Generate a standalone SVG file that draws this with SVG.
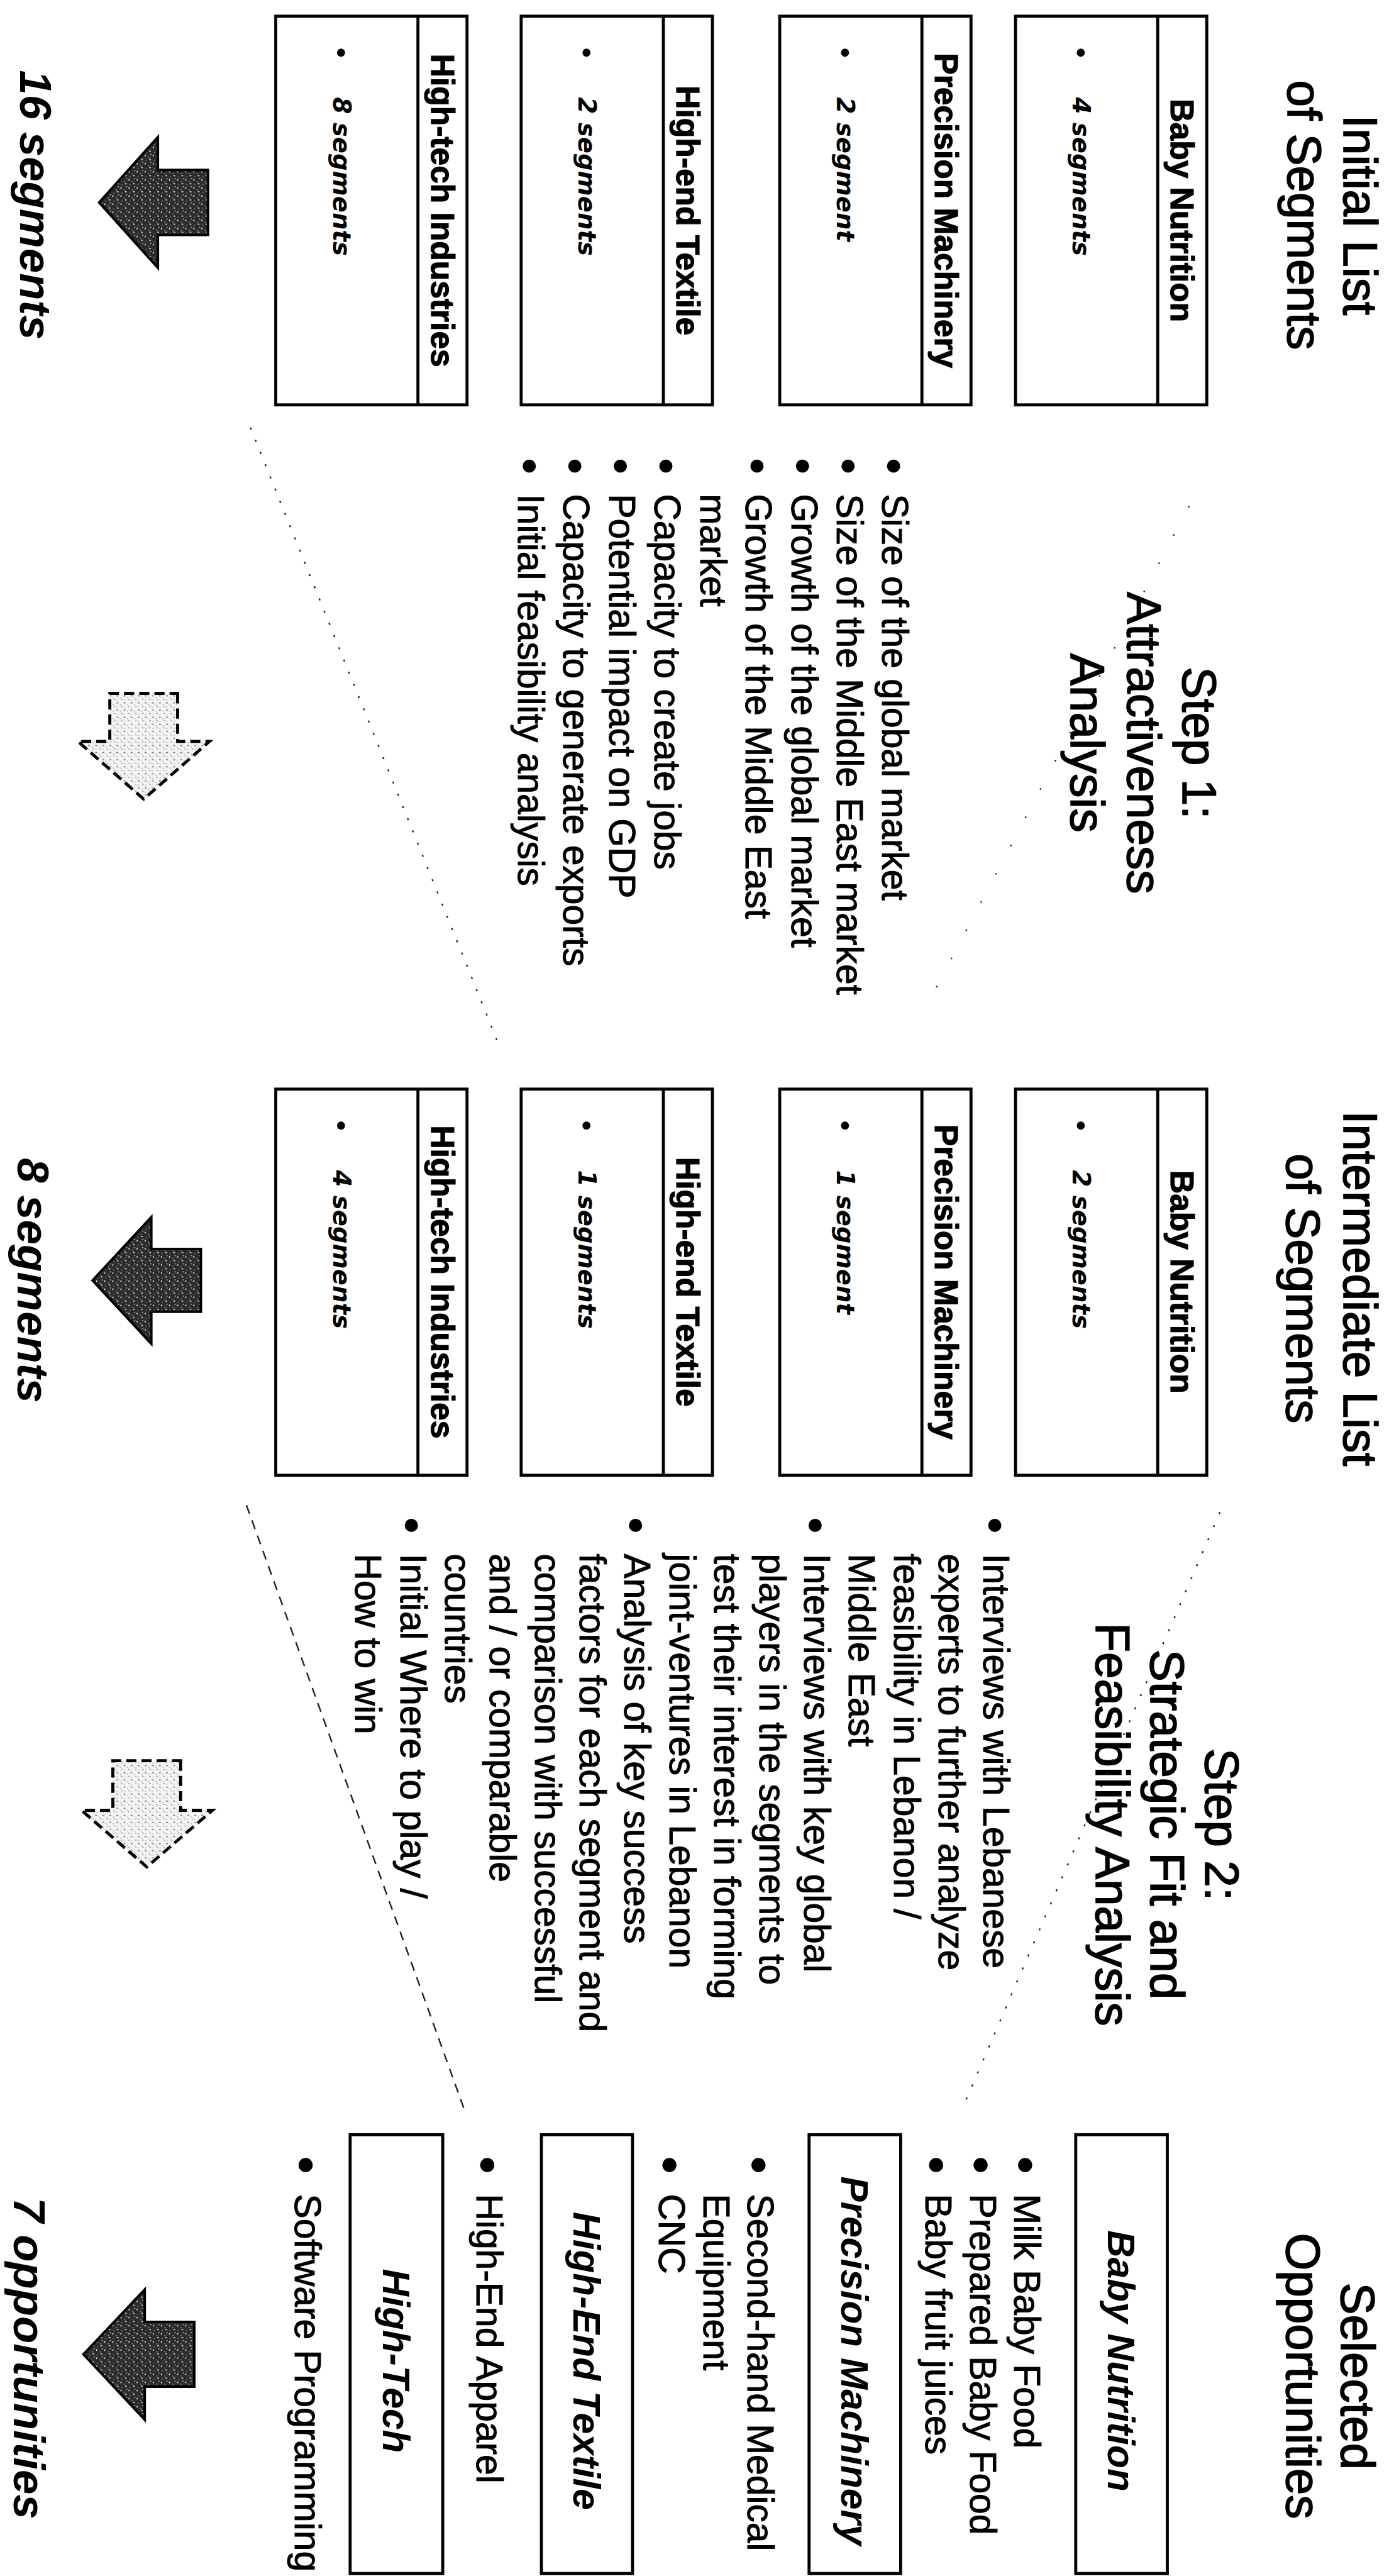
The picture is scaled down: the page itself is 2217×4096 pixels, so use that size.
<svg xmlns="http://www.w3.org/2000/svg" width="2217" height="4096" viewBox="0 0 2217 4096">
<defs>
<style>
.title{font-family:"Liberation Sans",Arial,sans-serif;font-size:95px;text-anchor:middle;fill:#000;stroke:#000;stroke-width:2}
.hdr{font-family:"Liberation Sans",Arial,sans-serif;font-weight:bold;font-size:64px;text-anchor:middle;fill:#000;stroke:#000;stroke-width:1.5}
.seg{font-family:"DejaVu Sans",Verdana,sans-serif;font-weight:bold;font-style:italic;font-size:48px;fill:#000}
.bl{font-family:"Liberation Sans",Arial,sans-serif;font-size:73px;fill:#000;stroke:#000;stroke-width:1.2}
.sel{font-family:"Liberation Sans",Arial,sans-serif;font-weight:bold;font-style:italic;font-size:75px;text-anchor:middle;fill:#000}
.cnt{font-family:"Liberation Sans",Arial,sans-serif;font-weight:bold;font-style:italic;font-size:88px;text-anchor:middle;fill:#000}
.box{fill:#fff;stroke:#000;stroke-width:6}
.div{stroke:#000;stroke-width:6}
.solid{fill:url(#dk);stroke:#000;stroke-width:5;stroke-linejoin:miter}
.dash{fill:url(#lt);stroke:#000;stroke-width:6;stroke-dasharray:20 10}
.dot{fill:#000}
.funnel{fill:none;stroke:#222;stroke-width:3}
</style>
<pattern id="dk" width="16" height="16" patternUnits="userSpaceOnUse">
<rect width="16" height="16" fill="#2b2b2b"/>
<rect x="2" y="3" width="3" height="2" fill="#fff"/>
<rect x="10" y="9" width="2" height="3" fill="#fff"/>
<rect x="6" y="12" width="2" height="2" fill="#aaa"/>
<rect x="12" y="1" width="2" height="2" fill="#888"/>
<rect x="0" y="8" width="2" height="2" fill="#ccc"/>
</pattern>
<pattern id="lt" width="14" height="14" patternUnits="userSpaceOnUse">
<rect width="14" height="14" fill="#f4f4f4"/>
<rect x="2" y="1" width="2" height="4" fill="#777"/>
<rect x="9" y="7" width="2" height="3" fill="#999"/>
<rect x="5" y="10" width="2" height="2" fill="#aaa"/>
<rect x="11" y="2" width="1" height="2" fill="#666"/>
</pattern>
</defs>
<rect width="2217" height="4096" fill="#fff"/>
<g transform="scale(0.80472) translate(2755 0) rotate(90)">

<g id="title-initial">
<text class="title" x="425" y="100">Initial List</text>
<text class="title" x="425" y="210">of Segments</text>
</g>
<g id="title-step1">
<text class="title" x="1468" y="417">Step 1:</text>
<text class="title" x="1468" y="527">Attractiveness</text>
<text class="title" x="1468" y="639">Analysis</text>
</g>
<g id="title-intermediate">
<text class="title" x="2546" y="100">Intermediate List</text>
<text class="title" x="2546" y="212">of Segments</text>
</g>
<g id="title-step2">
<text class="title" x="3605" y="373">Step 2:</text>
<text class="title" x="3605" y="481">Strategic Fit and</text>
<text class="title" x="3605" y="589">Feasibility Analysis</text>
</g>
<g id="title-selected">
<text class="title" x="4695" y="104">Selected</text>
<text class="title" x="4695" y="212">Opportunities</text>
</g>

<!-- Column 1 -->
<g id="c1-baby">
<rect class="box" x="32" y="370" width="768" height="378"/>
<line class="div" x1="32" y1="467" x2="800" y2="467"/>
<text class="hdr" x="416" y="441">Baby Nutrition</text>
<circle class="dot" cx="104" cy="619" r="8"/>
<text class="seg" x="192" y="635">4 segments</text>
</g>
<g id="c1-precision">
<rect class="box" x="32" y="836" width="768" height="378"/>
<line class="div" x1="32" y1="933" x2="800" y2="933"/>
<text class="hdr" x="416" y="907">Precision Machinery</text>
<circle class="dot" cx="104" cy="1085" r="8"/>
<text class="seg" x="192" y="1101">2 segment</text>
</g>
<g id="c1-textile">
<rect class="box" x="32" y="1347" width="768" height="378"/>
<line class="div" x1="32" y1="1444" x2="800" y2="1444"/>
<text class="hdr" x="416" y="1418">High-end Textile</text>
<circle class="dot" cx="104" cy="1596" r="8"/>
<text class="seg" x="192" y="1612">2 segments</text>
</g>
<g id="c1-hightech">
<rect class="box" x="32" y="1832" width="768" height="378"/>
<line class="div" x1="32" y1="1929" x2="800" y2="1929"/>
<text class="hdr" x="416" y="1903">High-tech Industries</text>
<circle class="dot" cx="104" cy="2081" r="8"/>
<text class="seg" x="192" y="2097">8 segments</text>
</g>

<!-- Step 1 bullets -->
<g id="step1-list">
<circle class="dot" cx="921" cy="989" r="13"/>
<text class="bl" x="976" y="1011">Size of the global market</text>
<circle class="dot" cx="921" cy="1079" r="13"/>
<text class="bl" x="976" y="1101">Size of the Middle East market</text>
<circle class="dot" cx="921" cy="1169" r="13"/>
<text class="bl" x="976" y="1191">Growth of the global market</text>
<circle class="dot" cx="921" cy="1259" r="13"/>
<text class="bl" x="976" y="1281">Growth of the Middle East</text>
<text class="bl" x="976" y="1371">market</text>
<circle class="dot" cx="921" cy="1439" r="13"/>
<text class="bl" x="976" y="1461">Capacity to create jobs</text>
<circle class="dot" cx="921" cy="1529" r="13"/>
<text class="bl" x="976" y="1551">Potential impact on GDP</text>
<circle class="dot" cx="921" cy="1619" r="13"/>
<text class="bl" x="976" y="1641">Capacity to generate exports</text>
<circle class="dot" cx="921" cy="1709" r="13"/>
<text class="bl" x="976" y="1731">Initial feasibility analysis</text>
</g>

<!-- Column 2 -->
<g id="c2-baby">
<rect class="box" x="2152" y="370" width="763" height="378"/>
<line class="div" x1="2152" y1="467" x2="2915" y2="467"/>
<text class="hdr" x="2533" y="441">Baby Nutrition</text>
<circle class="dot" cx="2224" cy="619" r="8"/>
<text class="seg" x="2312" y="635">2 segments</text>
</g>
<g id="c2-precision">
<rect class="box" x="2152" y="836" width="763" height="378"/>
<line class="div" x1="2152" y1="933" x2="2915" y2="933"/>
<text class="hdr" x="2533" y="907">Precision Machinery</text>
<circle class="dot" cx="2224" cy="1085" r="8"/>
<text class="seg" x="2312" y="1101">1 segment</text>
</g>
<g id="c2-textile">
<rect class="box" x="2152" y="1347" width="763" height="378"/>
<line class="div" x1="2152" y1="1444" x2="2915" y2="1444"/>
<text class="hdr" x="2533" y="1418">High-end Textile</text>
<circle class="dot" cx="2224" cy="1596" r="8"/>
<text class="seg" x="2312" y="1612">1 segments</text>
</g>
<g id="c2-hightech">
<rect class="box" x="2152" y="1832" width="763" height="378"/>
<line class="div" x1="2152" y1="1929" x2="2915" y2="1929"/>
<text class="hdr" x="2533" y="1903">High-tech Industries</text>
<circle class="dot" cx="2224" cy="2081" r="8"/>
<text class="seg" x="2312" y="2097">4 segments</text>
</g>

<!-- Step 2 bullets -->
<g id="step2-list">
<circle class="dot" cx="3014" cy="789" r="13"/>
<text class="bl" x="3070" y="811">Interviews with Lebanese</text>
<text class="bl" x="3070" y="900">experts to further analyze</text>
<text class="bl" x="3070" y="988">feasibility in Lebanon /</text>
<text class="bl" x="3070" y="1077">Middle East</text>
<circle class="dot" cx="3014" cy="1144" r="13"/>
<text class="bl" x="3070" y="1166">Interviews with key global</text>
<text class="bl" x="3070" y="1254">players in the segments to</text>
<text class="bl" x="3070" y="1343">test their interest in forming</text>
<text class="bl" x="3070" y="1432">joint-ventures in Lebanon</text>
<circle class="dot" cx="3014" cy="1499" r="13"/>
<text class="bl" x="3070" y="1521">Analysis of key success</text>
<text class="bl" x="3070" y="1609">factors for each segment and</text>
<text class="bl" x="3070" y="1698">comparison with successful</text>
<text class="bl" x="3070" y="1787">and / or comparable</text>
<text class="bl" x="3070" y="1875">countries</text>
<circle class="dot" cx="3014" cy="1942" r="13"/>
<text class="bl" x="3070" y="1964">Initial Where to play /</text>
<text class="bl" x="3070" y="2053">How to win</text>
</g>

<!-- Column 3 -->
<g id="c3-baby">
<rect class="box" x="4218" y="448" width="867" height="181"/>
<text class="sel" x="4665" y="565">Baby Nutrition</text>
<circle class="dot" cx="4278" cy="729" r="14"/>
<text class="bl" x="4335" y="750">Milk Baby Food</text>
<circle class="dot" cx="4278" cy="817" r="14"/>
<text class="bl" x="4335" y="838">Prepared Baby Food</text>
<circle class="dot" cx="4278" cy="905" r="14"/>
<text class="bl" x="4335" y="926">Baby fruit juices</text>
</g>
<g id="c3-precision">
<rect class="box" x="4218" y="975" width="867" height="181"/>
<text class="sel" x="4665" y="1092">Precision Machinery</text>
<circle class="dot" cx="4278" cy="1256" r="14"/>
<text class="bl" x="4335" y="1277">Second-hand Medical</text>
<text class="bl" x="4335" y="1365">Equipment</text>
<circle class="dot" cx="4278" cy="1432" r="14"/>
<text class="bl" x="4335" y="1453">CNC</text>
</g>
<g id="c3-textile">
<rect class="box" x="4218" y="1505" width="867" height="180"/>
<text class="sel" x="4665" y="1622">High-End Textile</text>
<circle class="dot" cx="4278" cy="1792" r="14"/>
<text class="bl" x="4335" y="1813">High-End Apparel</text>
</g>
<g id="c3-hightech">
<rect class="box" x="4218" y="1880" width="867" height="183"/>
<text class="sel" x="4665" y="1998">High-Tech</text>
<circle class="dot" cx="4278" cy="2151" r="14"/>
<text class="bl" x="4335" y="2172">Software Programming</text>
</g>

<!-- Counts -->
<g id="count-16">
<polygon class="solid" points="336,2344 464,2344 464,2443 529,2443 400,2559 271,2443 336,2443"/>
<text class="cnt" x="405" y="2715">16 segments</text>
</g>
<g id="count-8">
<polygon class="solid" points="2468,2358 2592,2358 2592,2456 2655,2456 2530,2572 2405,2456 2468,2456"/>
<text class="cnt" x="2530" y="2720">8 segments</text>
</g>
<g id="count-7">
<polygon class="solid" points="4588,2371 4716,2371 4716,2469 4781,2469 4652,2590 4524,2469 4588,2469"/>
<text class="cnt" x="4660" y="2728">7 opportunities</text>
</g>

<!-- Connectors -->
<g id="connectors">
<polygon class="dash" points="1370,2404 1465,2404 1465,2341 1579,2471 1465,2601 1465,2538 1370,2538"/>
<polygon class="dash" points="3479,2398 3577,2398 3577,2335 3689,2465 3577,2594 3577,2532 3479,2532"/>
<line class="funnel" x1="845" y1="2260" x2="2075" y2="1765" stroke-dasharray="4 22"/>
<line class="funnel" x1="1000" y1="405" x2="1990" y2="925" stroke-dasharray="3 60"/>
<line class="funnel" x1="2974" y1="2268" x2="4175" y2="1835" stroke-dasharray="18 14"/>
<line class="funnel" x1="2988" y1="344" x2="4168" y2="854" stroke-dasharray="4 24"/>
</g>
</g>
</svg>
